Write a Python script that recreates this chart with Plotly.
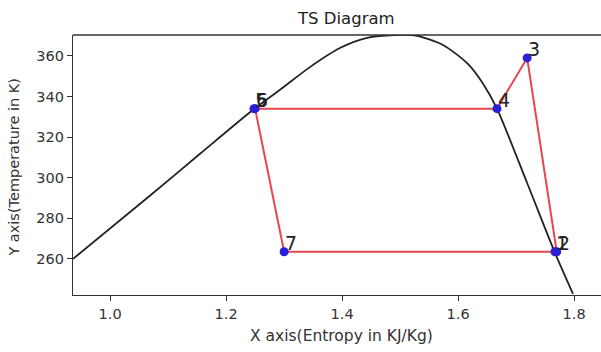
import plotly.graph_objects as go

# Saturation dome (entropy kJ/kg·K vs temperature K)
dome_s = [0.936, 1.069, 1.155, 1.247, 1.293, 1.345, 1.397, 1.443, 1.491,
          1.529, 1.574, 1.616, 1.643, 1.667, 1.719, 1.767, 1.798]
dome_T = [260.0, 291.2, 311.8, 333.6, 343.3, 354.6, 364.0, 368.9, 370.3,
          369.9, 365.4, 356.3, 346.3, 334.0, 297.4, 263.0, 242.8]

# Cycle state points
state_labels = ["1", "2", "3", "4", "5", "6", "7"]
state_s = [1.767, 1.770, 1.719, 1.667, 1.248, 1.250, 1.300]
state_T = [263.5, 263.5, 359.0, 334.0, 334.0, 334.0, 263.5]

x_ticks = [1.0, 1.2, 1.4, 1.6, 1.8]
y_ticks = [260, 280, 300, 320, 340, 360]

W, H = 601, 352
ML, MR, MT, MB = 73, 0, 35, 57

fig = go.Figure()

fig.add_trace(go.Scatter(
    x=dome_s, y=dome_T, mode="lines",
    line=dict(color="#222222", width=1.8, shape="spline", smoothing=0.7),
    hoverinfo="skip", showlegend=False,
))

# closed cycle path 1-2-3-4-5-6-7-1
cyc_s = state_s + [state_s[0]]
cyc_T = state_T + [state_T[0]]
fig.add_trace(go.Scatter(
    x=cyc_s, y=cyc_T, mode="lines",
    line=dict(color="#e8474f", width=2),
    showlegend=False,
))
fig.add_trace(go.Scatter(
    x=state_s, y=state_T, mode="markers",
    marker=dict(color="#2a1fd6", size=9),
    showlegend=False,
))

for lab, s, t in zip(state_labels, state_s, state_T):
    fig.add_annotation(
        x=s, y=t, text=lab, showarrow=False,
        xanchor="left", yanchor="bottom", xshift=-1, yshift=-4,
        font=dict(family="DejaVu Sans", size=19, color="#222222"),
    )

plot_w = W - ML - MR
fig.add_annotation(
    xref="paper", yref="paper", x=(346 - ML) / plot_w, y=1, yshift=17,
    text="TS Diagram", showarrow=False, xanchor="center", yanchor="middle",
    font=dict(family="DejaVu Sans", size=16.5, color="#222222"),
)
fig.add_annotation(
    xref="paper", yref="paper", x=(341 - ML) / plot_w, y=0, yshift=-41,
    text="X axis(Entropy in KJ/Kg)", showarrow=False,
    xanchor="center", yanchor="middle",
    font=dict(family="DejaVu Sans", size=15.5, color="#333333"),
)
fig.add_annotation(
    xref="paper", yref="paper", x=0, xshift=-59, y=0.49,
    text="Y axis(Temperature in K)", showarrow=False, textangle=-90,
    xanchor="center", yanchor="middle",
    font=dict(family="DejaVu Sans", size=14.5, color="#333333"),
)

# top spine
fig.add_shape(type="line", xref="paper", yref="paper",
              x0=0, x1=1, y0=1, y1=1, line=dict(color="#333333", width=1.3))

px_per_s = 580.0
px_per_T = 2.03
x0 = 0.936
y_top = 370.3
fig.update_layout(
    width=W, height=H,
    margin=dict(l=ML, r=MR, t=MT, b=MB),
    paper_bgcolor="white", plot_bgcolor="white",
    font=dict(family="DejaVu Sans", color="#333333"),
    xaxis=dict(
        range=[x0, x0 + plot_w / px_per_s],
        tickvals=x_ticks, ticktext=[f"{v:.1f}" for v in x_ticks],
        ticks="outside", ticklen=5, tickcolor="#333333", tickwidth=1,
        showgrid=False, zeroline=False,
        showline=True, linecolor="#333333", linewidth=1.3,
        tickfont=dict(size=14.5, color="#333333"),
    ),
    yaxis=dict(
        range=[y_top - (H - MT - MB) / px_per_T, y_top],
        tickvals=y_ticks,
        ticks="outside", ticklen=5, tickcolor="#333333", tickwidth=1,
        showgrid=False, zeroline=False,
        showline=True, linecolor="#333333", linewidth=1.3,
        tickfont=dict(size=14.5, color="#333333"),
    ),
)

fig.write_html("out.html")
